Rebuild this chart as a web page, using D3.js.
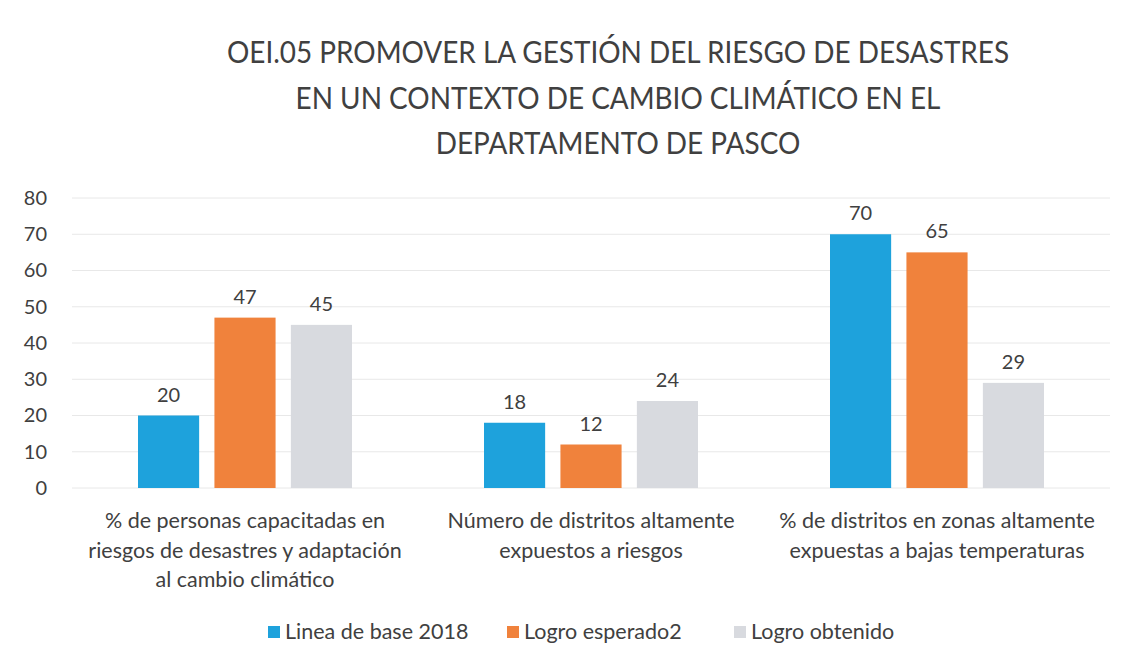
<!DOCTYPE html>
<html><head><meta charset="utf-8">
<script src="https://cdn.jsdelivr.net/npm/d3@7"></script>
<style>body{margin:0;background:#fff}</style>
</head><body>
<svg id="c" width="1131" height="666"></svg>
<script>
const categories = [
  ["% de personas capacitadas en","riesgos de desastres y adaptación","al cambio climático"],
  ["Número de distritos altamente","expuestos a riesgos"],
  ["% de distritos en zonas altamente","expuestas a bajas temperaturas"]
];
const seriesNames = ["Linea de base 2018","Logro esperado2","Logro obtenido"];
const lineaBase = [20,18,70];
const logroEsperado = [47,12,65];
const logroObtenido = [45,24,29];
const yTicks = [0,10,20,30,40,50,60,70,80];
const titleLines = ["OEI.05 PROMOVER LA GESTIÓN DEL RIESGO DE DESASTRES","EN UN CONTEXTO DE CAMBIO CLIMÁTICO EN EL","DEPARTAMENTO DE PASCO"];

(function(){
const colors = ["#1ea2dc","#f0823c","#d8dadf"];
const series = [lineaBase, logroEsperado, logroObtenido];
const font = "Lato, 'Open Sans', sans-serif";
const txt = "#404040";

const svg = d3.select("#c");
const pLeft = 72, pRight = 1110, pTop = 198, pBottom = 488;

const x0 = d3.scaleBand().domain(d3.range(categories.length)).range([pLeft,pRight]).paddingInner(0).paddingOuter(0);
const x1 = d3.scaleBand().domain(d3.range(series.length)).range([66,280]).paddingInner(0.2);
const y = d3.scaleLinear().domain([0,80]).range([pBottom,pTop]);

svg.append("g").selectAll("text").data(titleLines).join("text")
  .attr("transform",(d,i)=>`translate(618,${63+i*45.5}) scale(0.9,1)`)
  .attr("text-anchor","middle").attr("font-family",font)
  .attr("font-size",31).attr("fill",txt).text(d=>d);

svg.append("g").selectAll("line").data(yTicks).join("line")
  .attr("x1",pLeft).attr("x2",pRight).attr("y1",d=>y(d)).attr("y2",d=>y(d))
  .attr("stroke","#e8e8e8").attr("stroke-width",1);

const yAxis = d3.axisLeft(y).tickValues(yTicks).tickSize(0).tickPadding(0);
const ga = svg.append("g").attr("transform",`translate(47,0)`).call(yAxis);
ga.select(".domain").remove();
ga.selectAll("text").attr("font-family",font).attr("font-size",20).attr("fill",txt);

const groups = svg.append("g").selectAll("g").data(categories).join("g")
  .attr("transform",(d,i)=>`translate(${x0(i)},0)`);
groups.each(function(c,ci){
  const g = d3.select(this);
  series.forEach((s,si)=>{
    g.append("rect").attr("x",x1(si)).attr("width",x1.bandwidth())
      .attr("y",y(s[ci])).attr("height",y(0)-y(s[ci])).attr("fill",colors[si]);
    g.append("text").attr("x",x1(si)+x1.bandwidth()/2).attr("y",y(s[ci])-14)
      .attr("text-anchor","middle").attr("font-family",font).attr("font-size",20)
      .attr("fill",txt).text(s[ci]);
  });
});

groups.each(function(c,ci){
  d3.select(this).selectAll("text.cat").data(c).join("text").attr("class","cat")
    .attr("x",x0.bandwidth()/2).attr("y",(d,i)=>528+i*29.5)
    .attr("text-anchor","middle").attr("font-family",font)
    .attr("font-size",21.5).attr("fill",txt).text(d=>d);
});

const legX = [268,507,734];
const lg = svg.append("g").selectAll("g").data(seriesNames).join("g")
  .attr("transform",(d,i)=>`translate(${legX[i]},632)`);
lg.append("rect").attr("x",0).attr("y",-6).attr("width",12).attr("height",12).attr("fill",(d,i)=>colors[i]);
lg.append("text").attr("x",17).attr("y",7).attr("font-family",font)
  .attr("font-size",21.5).attr("fill",txt).text(d=>d);
})();
</script>
</body></html>
